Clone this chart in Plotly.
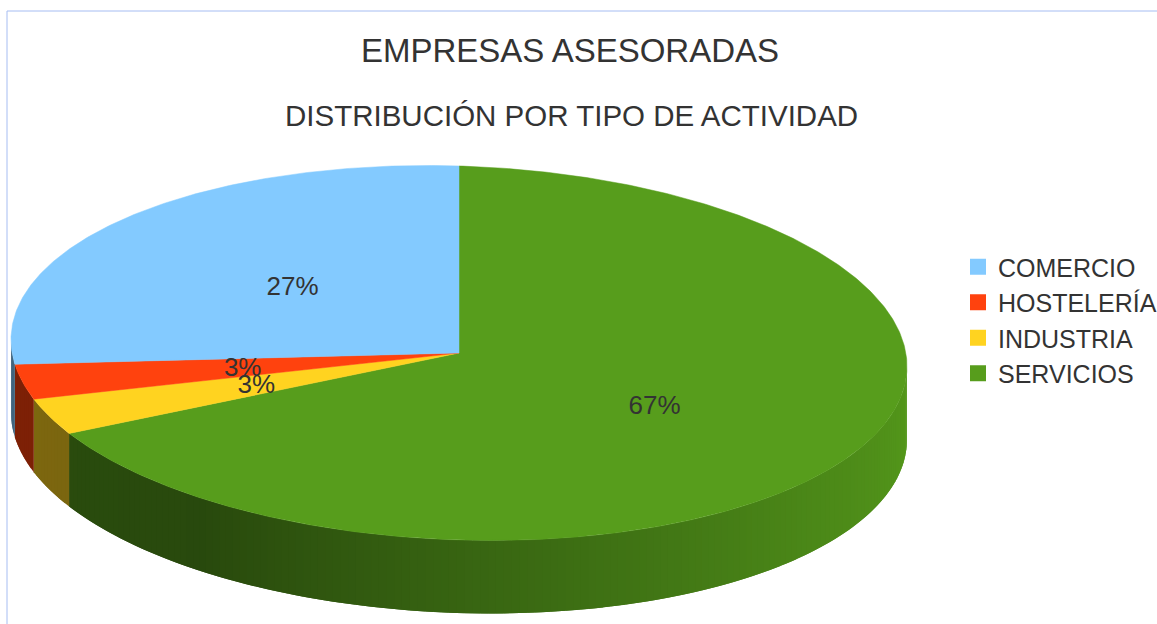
import numpy as np
import plotly.graph_objects as go

# --- data ---
categories = ["COMERCIO", "HOSTELERÍA", "INDUSTRIA", "SERVICIOS"]
shares = [27.1, 3.0, 3.1, 66.8]
percent_labels = ["27%", "3%", "3%", "67%"]
colors = ["#83caff", "#ff420e", "#ffd320", "#579d1c"]
title_text = "EMPRESAS ASESORADAS"
subtitle_text = "DISTRIBUCIÓN POR TIPO DE ACTIVIDAD"

# --- pie geometry, in the pixel-like units of the hidden axes ---
W, H = 1157, 624
CX, CY, RX, RY, DEPTH = 459, 353, 448, 187, 73
TILT = 0.03          # the disc leans: its right side sits lower than its left
LABEL_R = 0.5
LABEL_DX, LABEL_DY = 2, 2
SHADE_ANGLE = [90, 130, 180, 215, 270]
SHADE_FACTOR = [0.98, 0.86, 0.64, 0.47, 0.5]
FONT = "Liberation Sans"
TEXT = "#333333"


def ex(t, r=1.0):
    return CX + r * RX * np.sin(np.radians(t))


def ey(t, r=1.0):
    return CY - r * RY * np.cos(np.radians(t)) + TILT * r * RX * np.sin(np.radians(t))


def shade(hex_color, t):
    f = float(np.interp(t, SHADE_ANGLE, SHADE_FACTOR))
    rgb = [int(hex_color[i:i + 2], 16) for i in (1, 3, 5)]
    return "rgb({},{},{})".format(*[int(c * f) for c in rgb])


# clockwise from 12 o'clock: last category first
order = [3, 2, 1, 0]
spans = {}
start = 0.0
for i in order:
    end = start + shares[i] / sum(shares) * 360
    spans[i] = (start, end)
    start = end

fig = go.Figure()

# side wall, one strip per shade step; each strip runs under the next to hide seams
for i in order:
    a, b = spans[i]
    lo, hi = max(a, 90), min(b, 270)
    if hi <= lo:
        continue
    edges = np.linspace(lo, hi, max(2, int((hi - lo) / 1.0) + 1))
    for t0, t1 in zip(edges[:-1], edges[1:]):
        c = shade(colors[i], (t0 + t1) / 2)
        ts = np.linspace(t0, min(t1 + 1.0, hi), 3)
        xs = list(ex(ts)) + list(ex(ts[::-1]))
        ys = list(ey(ts)) + list(ey(ts[::-1]) + DEPTH)
        fig.add_trace(go.Scatter(x=xs + xs[:1], y=ys + ys[:1], mode="lines", fill="toself",
                                 fillcolor=c, line=dict(width=0),
                                 hoverinfo="skip", showlegend=False))

# top face
for i in order:
    a, b = spans[i]
    ts = np.linspace(a, b, max(3, int(b - a) * 2))
    xs = [CX] + list(ex(ts)) + [CX]
    ys = [CY] + list(ey(ts)) + [CY]
    fig.add_trace(go.Scatter(x=xs, y=ys, mode="lines", fill="toself", fillcolor=colors[i],
                             line=dict(color=colors[i], width=0.5), name=categories[i],
                             hoverinfo="name", showlegend=False))

# percent labels
mids = [np.mean(spans[i]) for i in range(4)]
fig.add_trace(go.Scatter(
    x=[ex(m, LABEL_R) + LABEL_DX for m in mids],
    y=[ey(m, LABEL_R) + LABEL_DY for m in mids],
    mode="text", text=percent_labels, textposition="middle center",
    textfont=dict(family=FONT, size=26, color=TEXT), hoverinfo="skip", showlegend=False))

# legend entries
for i in range(4):
    fig.add_trace(go.Scatter(x=[None], y=[None], mode="markers", name=categories[i],
                             marker=dict(symbol="square", size=16, color=colors[i])))

fig.update_layout(
    width=W, height=H, margin=dict(l=0, r=0, t=0, b=0, autoexpand=False),
    paper_bgcolor="white", plot_bgcolor="white",
    xaxis=dict(range=[0, W], visible=False, fixedrange=True),
    yaxis=dict(range=[H, 0], visible=False, fixedrange=True),
    title=dict(text=title_text, x=570 / W, xanchor="center", y=1 - 50 / H, yanchor="middle",
               font=dict(family=FONT, size=33, color=TEXT)),
    annotations=[dict(text=subtitle_text, x=571, y=115, xref="x", yref="y", showarrow=False,
                      xanchor="center", yanchor="middle", font=dict(family=FONT, size=29.5, color=TEXT))],
    shapes=[dict(type="rect", x0=7, y0=11, x1=W + 20, y1=H + 20, xref="x", yref="y",
                 line=dict(color="#a6bdf2", width=1), layer="below")],
    legend=dict(x=958 / W, y=1 - 244 / H, xanchor="left", yanchor="top",
                font=dict(family=FONT, size=25, color=TEXT), bgcolor="rgba(0,0,0,0)",
                itemclick=False, itemdoubleclick=False),
    showlegend=True,
)

fig.write_html("out.html", post_script="document.body.style.margin='0';document.body.style.overflow='hidden';",
               config=dict(displayModeBar=False))
